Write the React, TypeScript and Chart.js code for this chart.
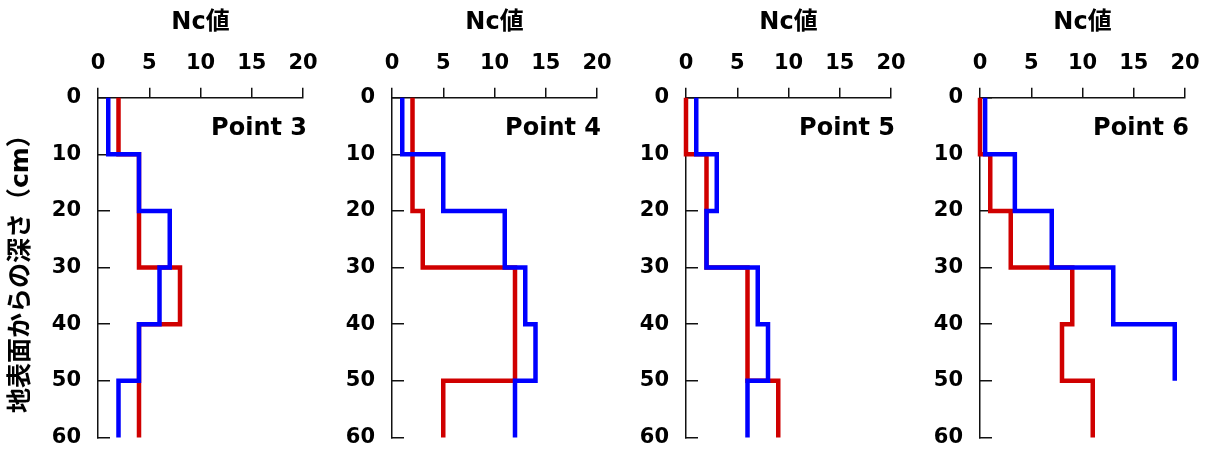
import React, { useEffect, useRef } from "react";
import { Chart, registerables } from "chart.js";

Chart.register(...registerables);

// Layer boundaries (depth, cm) and axis ticks
const depthBounds = [0, 10, 20, 30, 40, 50, 60];
const xTickValues = [0, 5, 10, 15, 20];
const depthTickValues = [0, 10, 20, 30, 40, 50, 60];

const pointNames = ["Point 3", "Point 4", "Point 5", "Point 6"];

// Nc values per 10 cm layer (0-10, 10-20, ... 50-60)
const redP3 = [2, 4, 4, 8, 4, 4];
const blueP3 = [1, 4, 7, 6, 4, 2];
const redP4 = [2, 2, 3, 12, 12, 5];
const blueP4 = [1, 5, 11, 13, 14, 12];
const redP5 = [0, 2, 2, 6, 6, 9];
const blueP5 = [1, 3, 2, 7, 8, 6];
const redP6 = [0, 1, 3, 9, 8, 11];
const blueP6 = [0.5, 3.4, 7, 13, 19];

const redSeries = [redP3, redP4, redP5, redP6];
const blueSeries = [blueP3, blueP4, blueP5, blueP6];

const xTitle = "Nc値";
const yTitle = "地表面からの深さ（cm）";

const FONT = '"DejaVu Sans", "Noto Sans CJK JP", sans-serif';
const RED = "#D00000";
const BLUE = "#0000FF";

const CANVAS_W = 320;
const CANVAS_H = 450;
const PANEL_STEP = 294;
const AXIS_W = 98;
const PLOT_TOP = 97.7;
const PLOT_W = 205;
const PLOT_BOTTOM = 437.5;

function stepPoints(values: number[]) {
  const pts: { x: number; y: number }[] = [];
  values.forEach((v, i) => {
    pts.push({ x: v, y: depthBounds[i] });
    pts.push({ x: v, y: depthBounds[i + 1] });
  });
  return pts;
}

const pointLabelPlugin = {
  id: "pointLabel",
  afterDraw(chart: any, _args: any, opts: any) {
    const { ctx, chartArea } = chart;
    ctx.save();
    ctx.font = `bold 24px ${FONT}`;
    ctx.fillStyle = "#000";
    ctx.textAlign = "right";
    ctx.textBaseline = "middle";
    ctx.fillText(opts.text, chartArea.right + 4, chartArea.top + 31);
    ctx.restore();
  },
};

function zeroPadding(s: any) {
  s.paddingTop = 0;
  s.paddingBottom = 0;
  s.paddingLeft = 0;
  s.paddingRight = 0;
}

function Panel({ index }: { index: number }) {
  const ref = useRef<HTMLCanvasElement>(null);
  useEffect(() => {
    const canvas = ref.current;
    if (!canvas) return;
    const showYTitle = index === 0;
    const chart = new Chart(canvas, {
      type: "line",
      data: {
        datasets: [
          {
            label: "系列2",
            data: stepPoints(blueSeries[index]),
            borderColor: BLUE,
            backgroundColor: BLUE,
            borderWidth: 4.5,
            pointRadius: 0,
            fill: false,
            tension: 0,
            borderJoinStyle: "miter",
            clip: false,
          } as any,
          {
            label: "系列1",
            data: stepPoints(redSeries[index]),
            borderColor: RED,
            backgroundColor: RED,
            borderWidth: 4.5,
            pointRadius: 0,
            fill: false,
            tension: 0,
            borderJoinStyle: "miter",
            clip: false,
          } as any,
        ],
      },
      options: {
        animation: false,
        responsive: false,
        maintainAspectRatio: false,
        parsing: false,
        layout: {
          padding: {
            left: 0,
            top: 0,
            right: CANVAS_W - AXIS_W - PLOT_W,
            bottom: CANVAS_H - PLOT_BOTTOM,
          },
        },
        plugins: {
          legend: { display: false },
          tooltip: { enabled: false },
          pointLabel: { text: pointNames[index] },
        } as any,
        scales: {
          x: {
            type: "linear",
            position: "top",
            min: 0,
            max: 20,
            afterBuildTicks: (s: any) => {
              s.ticks = xTickValues.map((v) => ({ value: v }));
            },
            afterFit: (s: any) => {
              s.height = PLOT_TOP;
              zeroPadding(s);
            },
            grid: {
              drawOnChartArea: false,
              tickLength: 10,
              color: "#111",
              lineWidth: 1.5,
            },
            border: { color: "#111", width: 1.5 },
            ticks: {
              font: { family: FONT, size: 21, weight: "bold" },
              color: "#000",
              padding: 12,
              maxRotation: 0,
              autoSkip: false,
            },
            title: {
              display: true,
              text: xTitle,
              font: { family: FONT, size: 24, weight: "bold" },
              color: "#000",
              padding: { top: 8, bottom: 0 },
            },
          },
          y: {
            type: "linear",
            position: "left",
            reverse: true,
            min: 0,
            max: 60,
            afterBuildTicks: (s: any) => {
              s.ticks = depthTickValues.map((v) => ({ value: v }));
            },
            afterFit: (s: any) => {
              s.width = AXIS_W;
              zeroPadding(s);
            },
            grid: {
              drawOnChartArea: false,
              tickLength: -12,
              color: "#111",
              lineWidth: 1.5,
            },
            border: { color: "#111", width: 1.5 },
            ticks: {
              font: { family: FONT, size: 21, weight: "bold" },
              color: "#000",
              padding: 29,
              autoSkip: false,
            },
            title: {
              display: showYTitle,
              text: yTitle,
              font: { family: FONT, size: 25, weight: "bold" },
              color: "#000",
              padding: { top: 6, bottom: 0 },
            },
          },
        },
      } as any,
      plugins: [pointLabelPlugin as any],
    });
    return () => chart.destroy();
  }, [index]);

  return (
    <canvas
      ref={ref}
      width={CANVAS_W}
      height={CANVAS_H}
      style={{
        position: "absolute",
        left: index * PANEL_STEP,
        top: 0,
        width: CANVAS_W,
        height: CANVAS_H,
      }}
    />
  );
}

export default function App() {
  return (
    <div
      style={{
        position: "absolute",
        left: 0,
        top: 0,
        width: 1208,
        height: 450,
        background: "#fff",
        overflow: "hidden",
      }}
    >
      {pointNames.map((_, i) => (
        <Panel key={i} index={i} />
      ))}
    </div>
  );
}
